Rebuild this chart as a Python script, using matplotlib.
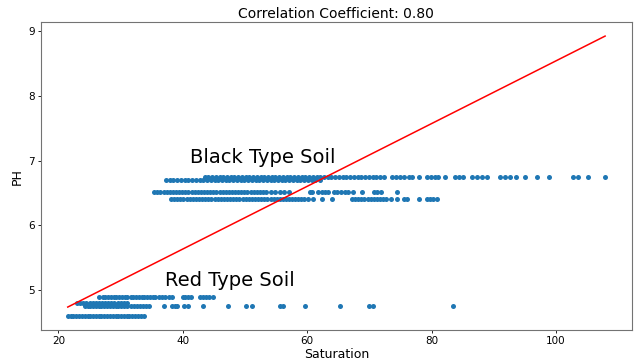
import numpy as np
import matplotlib
matplotlib.use('Agg')
import matplotlib.pyplot as plt

# saturation values, grouped by pH level
red_ph = [4.6, 4.75, 4.8, 4.9]
red_sat_460 = [21.5, 22.0, 22.4, 22.9, 23.3, 23.8, 24.2, 24.7, 25.1, 25.6,
               26.0, 26.5, 26.9, 27.4, 27.8, 28.3, 28.7, 29.2, 29.6, 30.1,
               30.5, 31.0, 31.4, 31.9, 32.3, 32.8, 33.2, 33.7]
red_sat_475 = [24.2, 24.7, 25.1, 25.6, 26.0, 26.5, 26.9, 27.4, 27.8, 28.3,
               28.7, 29.2, 29.6, 30.1, 30.6, 31.1, 31.6, 32.1, 32.6, 33.1,
               33.6, 34.0, 34.5, 37.0, 38.3, 38.7, 39.1, 40.2, 40.8, 43.2,
               47.3, 50.1, 51.2, 55.7, 56.1, 59.7, 65.3, 70.0, 70.5, 83.5]
red_sat_480 = [23.0, 23.5, 24.0, 24.5, 25.0, 25.5, 26.0, 26.5, 27.0, 27.5,
               28.0, 28.5, 29.0, 29.5, 30.0, 30.5, 31.0]
red_sat_490 = [26.6, 27.1, 27.5, 28.0, 28.4, 28.9, 29.3, 29.8, 30.2, 30.7,
               31.1, 31.6, 32.0, 32.5, 32.9, 33.4, 33.8, 34.3, 34.7, 35.2,
               35.6, 36.1, 36.7, 37.2, 37.7, 38.3, 40.0, 40.4, 40.9, 41.3,
               42.7, 43.2, 43.7, 44.2, 44.8]

black_ph = [6.4, 6.52, 6.7, 6.74]
black_sat_640 = [38.1, 38.6, 39.1, 39.6, 40.1, 40.6, 41.1, 41.6, 42.1, 42.6,
                 43.1, 43.6, 44.1, 44.6, 45.1, 45.6, 46.1, 46.6, 47.1, 47.6,
                 48.1, 48.6, 49.1, 49.6, 50.1, 50.6, 51.1, 51.6, 52.1, 52.6,
                 53.1, 53.6, 54.1, 54.6, 55.1, 55.6, 56.1, 56.6, 57.1, 57.6,
                 58.1, 58.6, 59.0, 59.5, 60.2, 60.9, 62.4, 64.0, 67.2, 67.7,
                 68.2, 68.7, 69.2, 69.7, 70.2, 70.7, 71.2, 71.7, 72.2, 72.7,
                 73.4, 74.4, 75.5, 76.0, 77.9, 79.3, 79.8, 80.3, 80.9]
black_sat_652 = [35.4, 35.9, 36.4, 36.9, 37.4, 37.9, 38.4, 38.9, 39.4, 39.9,
                 40.4, 40.9, 41.4, 41.9, 42.4, 42.9, 43.4, 43.9, 44.4, 44.9,
                 45.4, 45.9, 46.4, 46.9, 47.4, 47.9, 48.4, 48.9, 49.4, 49.9,
                 50.4, 50.9, 51.4, 51.9, 52.4, 52.9, 53.4, 54.1, 54.9, 55.6,
                 56.3, 57.0, 60.5, 60.8, 61.8, 62.3, 62.8, 63.4, 64.3, 64.8,
                 65.4, 66.0, 66.6, 67.4, 68.8, 70.7, 71.2, 71.8, 74.5]
black_sat_670 = [37.3, 37.9, 38.5, 39.1, 39.7, 40.3, 40.9, 41.5, 42.1, 42.7,
                 43.3, 43.9, 44.5, 45.1, 45.7, 46.3, 46.9, 47.5, 48.1, 48.7,
                 49.3, 49.9, 50.5, 51.1, 51.7, 52.3, 52.9, 53.5, 54.1, 54.7,
                 55.3, 55.9, 56.5, 57.1, 57.7, 58.3, 58.9, 59.5, 60.1, 60.7,
                 61.3, 62.0]
black_sat_674 = [43.5, 44.1, 44.7, 45.3, 45.9, 46.5, 47.1, 47.7, 48.3, 48.9,
                 49.5, 50.1, 50.7, 51.3, 51.9, 52.5, 53.1, 53.7, 54.3, 54.9,
                 55.5, 56.1, 56.7, 57.3, 57.9, 58.5, 59.1, 59.7, 60.3, 60.9,
                 61.5, 62.1, 62.7, 63.3, 63.9, 64.5, 65.1, 65.7, 66.3, 66.9,
                 67.5, 68.1, 68.7, 69.3, 69.9, 70.5, 71.1, 71.7, 72.3, 73.7,
                 74.3, 75.0, 75.5, 76.3, 76.9, 77.9, 79.3, 79.9, 80.5, 81.1,
                 82.2, 83.8, 84.4, 85.1, 86.5, 87.3, 88.1, 88.9, 91.0, 91.8,
                 92.6, 93.5, 95.1, 96.9, 98.8, 102.8, 103.6, 105.2, 107.9]

# fitted line
fit_slope = 0.04838
fit_intercept = 3.70
corr_coef = 0.80

groups = [(red_sat_460, red_ph[0]), (red_sat_475, red_ph[1]),
          (red_sat_480, red_ph[2]), (red_sat_490, red_ph[3]),
          (black_sat_640, black_ph[0]), (black_sat_652, black_ph[1]),
          (black_sat_670, black_ph[2]), (black_sat_674, black_ph[3])]

sat = np.concatenate([np.array(s) for s, p in groups])
ph = np.concatenate([np.full(len(s), p) for s, p in groups])

fig = plt.figure(figsize=(6.39, 3.62), dpi=100)
ax = fig.add_axes([0.064, 0.088, 0.925, 0.851])

ax.scatter(sat, ph, s=13, color='#1f77b4', linewidths=0)

line_x = np.array([sat.min(), sat.max()])
ax.plot(line_x, fit_slope * line_x + fit_intercept, color='red', linewidth=1.1)

ax.text(41.1, 6.97, 'Black Type Soil', fontsize=14)
ax.text(37.2, 5.07, 'Red Type Soil', fontsize=14)

ax.set_title('Correlation Coefficient: %.2f' % corr_coef, fontsize=10, pad=3)
ax.set_xlabel('Saturation', fontsize=9, labelpad=1)
ax.set_ylabel('PH', fontsize=9, labelpad=3)
ax.tick_params(labelsize=7.5, length=2.5, width=0.6, pad=2)
ax.set_yticks([5, 6, 7, 8, 9])
for sp in ax.spines.values():
    sp.set_color('0.45')
    sp.set_linewidth(0.8)

plt.savefig('out.png', dpi=100)
